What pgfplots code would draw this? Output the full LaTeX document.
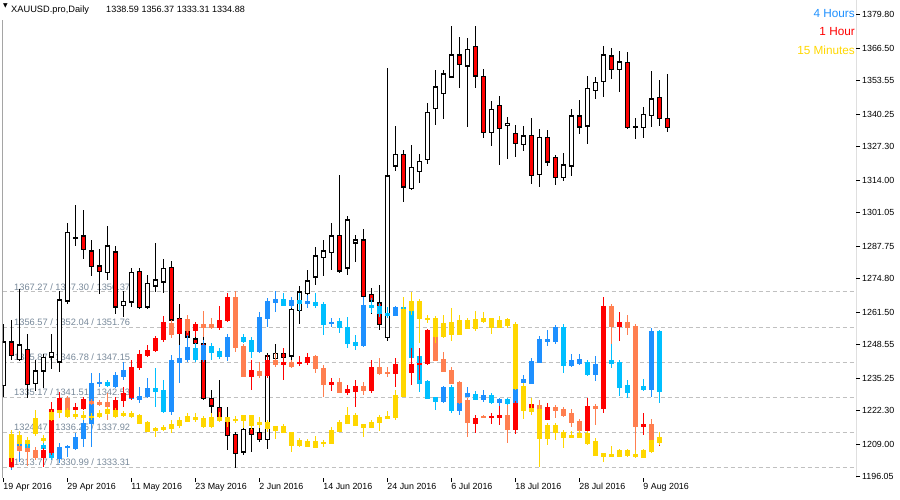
\documentclass[border=0pt]{standalone}
\usepackage{fontspec}
\setmainfont{Liberation Sans}
\newfontfamily\dejavu{DejaVu Sans}
\usepackage{pgfplots}
\usepackage{pgfplotstable}
\pgfplotsset{compat=1.18}
\definecolor{bullB}{HTML}{1E90FF}
\definecolor{bearB}{HTML}{00BFFF}
\definecolor{bullR}{HTML}{FF0000}
\definecolor{bearR}{HTML}{FF7F50}
\definecolor{goldM}{HTML}{FFD700}
\definecolor{lvl}{HTML}{778899}
\definecolor{gridc}{HTML}{C0C0C0}
\newcommand{\tickfont}{\fontsize{8.9}{10}\selectfont}
\newcommand{\lvlfont}{\fontsize{9.3}{10}\selectfont}

% daily candles: k open high low close
\pgfplotstableread{
k o h l c
0 1232.5 1256.7 1227.8 1249.7
1 1249.7 1258.4 1242.4 1244.4
2 1242.7 1270.9 1242.0 1248.4
3 1246.7 1252.8 1227.6 1232.9
4 1233.2 1242.4 1230.1 1238.1
5 1238.2 1245.1 1231.2 1243.5
6 1243.7 1252.8 1239.1 1245.6
7 1241.8 1269.9 1237.8 1266.3
8 1266.0 1297.1 1264.7 1293.1
9 1291.1 1304.1 1287.8 1291.3
10 1291.8 1302.1 1282.5 1286.5
11 1285.8 1290.2 1275.9 1279.8
12 1279.8 1286.5 1268.9 1277.8
13 1277.3 1295.9 1274.3 1287.8
14 1285.4 1287.8 1261.0 1263.6
15 1264.2 1270.0 1259.7 1265.8
16 1265.6 1279.2 1263.4 1277.3
17 1277.8 1279.2 1263.0 1263.4
18 1263.6 1276.5 1263.0 1272.9
19 1271.9 1289.1 1269.4 1274.3
20 1273.6 1282.5 1269.2 1278.9
21 1279.3 1281.8 1257.0 1258.4
22 1258.8 1264.7 1248.4 1253.2
23 1254.4 1260.3 1248.4 1251.7
24 1250.8 1252.4 1246.4 1249.0
25 1249.0 1252.4 1226.5 1227.2
26 1227.2 1230.5 1219.9 1224.3
27 1223.6 1234.5 1218.6 1219.6
28 1219.6 1223.9 1206.9 1212.6
29 1212.9 1213.7 1199.7 1205.3
30 1206.0 1216.2 1204.9 1214.9
31 1215.3 1215.9 1206.0 1212.9
32 1213.7 1215.9 1209.9 1210.9
33 1210.9 1245.1 1207.3 1244.1
34 1243.1 1248.8 1240.0 1245.1
35 1245.1 1246.7 1234.8 1243.5
36 1244.1 1266.0 1242.0 1262.6
37 1262.3 1271.9 1256.8 1269.6
38 1268.9 1278.5 1265.0 1273.9
39 1275.6 1287.5 1272.3 1283.8
40 1283.3 1290.2 1275.9 1285.8
41 1285.3 1297.1 1278.3 1291.8
42 1292.1 1316.0 1277.2 1277.9
43 1279.2 1299.7 1276.3 1298.1
44 1289.1 1292.4 1281.5 1290.2
45 1290.2 1294.5 1267.2 1267.9
46 1268.6 1271.0 1261.0 1266.0
47 1265.2 1272.3 1254.4 1256.6
48 1251.5 1358.5 1250.1 1315.6
49 1319.7 1335.5 1317.8 1324.3
50 1324.3 1326.2 1305.4 1311.4
51 1310.7 1327.9 1310.1 1319.1
52 1317.4 1324.3 1313.0 1321.3
53 1322.3 1344.6 1320.4 1341.0
54 1342.6 1357.8 1335.9 1351.0
55 1348.5 1357.8 1338.2 1356.2
56 1355.1 1375.3 1354.7 1363.8
57 1363.8 1370.8 1350.8 1360.0
58 1359.5 1370.4 1335.3 1366.0
59 1367.1 1375.3 1350.8 1355.4
60 1355.1 1358.1 1330.6 1333.0
61 1333.0 1345.5 1327.7 1342.2
62 1343.6 1347.5 1320.0 1334.6
63 1335.8 1339.0 1322.4 1336.6
64 1332.6 1335.9 1323.3 1328.6
65 1328.2 1335.5 1325.7 1331.5
66 1331.8 1338.7 1312.4 1315.8
67 1316.3 1334.3 1311.2 1331.0
68 1331.0 1333.9 1319.6 1321.3
69 1323.1 1324.0 1312.0 1315.1
70 1315.1 1324.7 1313.8 1320.0
71 1319.7 1342.3 1315.8 1339.5
72 1339.5 1345.9 1332.3 1335.2
73 1335.6 1355.4 1328.4 1350.5
74 1349.8 1355.1 1346.3 1352.9
75 1353.2 1367.4 1347.2 1363.8
76 1363.4 1366.4 1354.2 1358.1
77 1358.1 1365.3 1349.2 1360.9
78 1360.9 1364.8 1334.3 1334.9
79 1335.2 1338.6 1330.2 1335.0
80 1334.9 1343.0 1330.6 1340.2
81 1339.8 1357.4 1335.0 1346.2
82 1346.9 1353.8 1335.6 1338.6
83 1338.59 1356.37 1333.31 1334.88
}\daily

% 4 hour candles, drawn in the band
\pgfplotstableread{
k o h l c
1 1201.1 1204.3 1198.7 1202.7
2 1208.2 1210.6 1201.9 1209.8
3 1209.4 1210.2 1207.1 1207.8
4 1206.7 1207.5 1204.7 1205.5
5 1208.6 1210.2 1203.5 1207.5
6 1210.6 1211.4 1202.7 1203.9
7 1203.5 1209.4 1201.5 1207.8
8 1207.7 1208.6 1203.9 1208.0
9 1207.5 1213.4 1206.7 1211.8
10 1211.4 1221.4 1207.8 1217.4
11 1217.4 1237.3 1207.8 1233.3
12 1233.3 1237.3 1231.7 1233.7
13 1233.7 1234.5 1231.7 1232.5
14 1232.1 1237.7 1231.3 1236.5
15 1236.1 1241.7 1234.5 1238.5
16 1227.3 1229.7 1226.5 1228.5
17 1226.9 1231.7 1225.3 1228.1
18 1228.1 1235.3 1227.3 1231.3
19 1231.3 1239.3 1223.8 1230.1
20 1230.5 1234.5 1221.4 1222.2
21 1222.2 1244.4 1220.6 1242.4
22 1241.7 1248.4 1233.3 1243.2
23 1242.8 1252.4 1241.7 1247.6
24 1247.2 1249.2 1241.7 1242.8
25 1242.8 1250.4 1241.7 1248.4
26 1248.0 1249.2 1242.4 1245.6
27 1246.0 1247.2 1242.8 1244.0
28 1244.0 1252.8 1242.0 1251.6
29 1251.2 1252.4 1248.4 1249.6
30 1251.6 1252.8 1249.2 1250.0
31 1250.4 1251.6 1243.2 1246.0
32 1246.0 1261.5 1245.2 1259.5
33 1259.2 1267.1 1255.6 1265.9
34 1265.5 1269.9 1261.5 1266.7
35 1266.7 1269.1 1264.0 1264.3
36 1264.3 1267.5 1263.1 1266.3
37 1266.3 1269.1 1261.9 1265.1
38 1265.1 1268.3 1263.1 1265.9
39 1265.5 1269.1 1263.1 1264.3
40 1264.7 1265.5 1252.4 1256.8
41 1257.2 1259.2 1255.6 1257.6
42 1258.0 1259.2 1253.2 1255.6
43 1255.6 1259.6 1247.2 1249.2
44 1249.6 1252.4 1246.4 1248.4
45 1248.4 1267.5 1247.6 1264.3
46 1264.3 1267.1 1261.1 1263.5
47 1263.9 1265.1 1259.6 1261.1
48 1261.1 1263.5 1259.2 1260.3
49 1260.3 1263.9 1259.9 1263.5
50 1263.5 1265.1 1262.3 1263.1
51 1262.3 1263.5 1243.4 1243.6
52 1244.0 1244.4 1229.7 1233.3
53 1234.1 1234.5 1226.9 1227.3
54 1227.7 1227.7 1222.6 1226.1
55 1226.1 1232.1 1225.3 1231.7
56 1231.7 1232.5 1221.4 1222.6
57 1222.6 1227.3 1220.6 1226.5
58 1228.1 1231.7 1227.7 1229.3
59 1228.9 1230.1 1226.5 1226.9
60 1226.9 1230.5 1225.7 1228.5
61 1228.5 1229.3 1225.0 1225.7
62 1225.7 1227.3 1223.8 1226.9
63 1226.9 1227.3 1223.8 1225.3
64 1225.3 1232.5 1224.9 1232.1
65 1233.7 1236.5 1232.5 1234.9
66 1233.3 1243.2 1233.3 1242.0
67 1241.7 1252.0 1241.3 1250.8
68 1250.0 1254.4 1248.0 1250.8
69 1250.0 1256.4 1248.8 1255.6
70 1255.6 1256.8 1237.3 1240.5
71 1240.5 1244.8 1239.7 1242.4
72 1241.3 1244.8 1240.5 1242.8
73 1241.7 1242.4 1236.1 1236.9
74 1236.9 1244.0 1234.1 1240.9
75 1240.1 1242.4 1239.3 1241.7
76 1242.4 1249.2 1239.3 1241.3
77 1241.7 1242.4 1228.1 1231.7
78 1232.5 1234.5 1227.3 1229.7
79 1232.1 1232.5 1230.5 1230.9
80 1232.1 1234.9 1230.1 1230.9
81 1230.9 1255.2 1227.7 1254.0
82 1254.0 1254.4 1225.3 1230.1
}\hfour

% 1 hour candles
\pgfplotstableread{
k o h l c
1 1200.3 1208.2 1199.5 1207.1
2 1208.2 1209.0 1205.9 1206.7
3 1207.5 1208.2 1200.3 1206.3
4 1206.7 1207.8 1202.7 1203.9
5 1203.9 1207.5 1199.9 1206.7
6 1205.9 1225.7 1204.7 1223.0
7 1222.6 1229.7 1221.4 1227.3
8 1227.3 1228.1 1221.4 1222.6
9 1223.0 1225.3 1221.4 1223.8
10 1223.4 1227.7 1222.6 1226.9
11 1226.1 1226.9 1224.6 1225.3
12 1225.7 1226.5 1224.2 1225.0
13 1225.7 1229.3 1218.6 1224.2
14 1222.6 1227.7 1221.4 1226.5
15 1226.5 1231.7 1223.8 1229.3
16 1227.7 1242.4 1226.5 1239.7
17 1239.7 1246.4 1238.5 1244.8
18 1244.4 1248.4 1243.6 1246.4
19 1246.4 1252.0 1245.6 1251.2
20 1250.8 1260.0 1249.6 1257.6
21 1257.2 1258.4 1251.2 1252.8
22 1253.2 1259.2 1252.8 1258.8
23 1258.8 1260.3 1253.2 1254.4
24 1254.4 1257.6 1251.6 1256.8
25 1256.8 1261.9 1251.6 1255.6
26 1256.8 1259.2 1254.8 1255.6
27 1255.6 1263.9 1254.4 1258.4
28 1258.4 1269.1 1257.6 1267.5
29 1267.5 1269.9 1245.6 1247.6
30 1248.0 1248.8 1235.7 1236.1
31 1236.1 1242.4 1230.5 1238.5
32 1238.1 1241.7 1235.3 1236.5
33 1236.5 1244.4 1235.3 1242.4
34 1242.4 1245.2 1239.7 1240.9
35 1240.9 1247.2 1234.5 1241.7
36 1241.7 1242.4 1239.3 1240.1
37 1241.3 1244.0 1240.1 1241.7
38 1241.7 1245.2 1240.5 1243.6
39 1244.0 1244.4 1237.3 1239.3
40 1239.3 1240.5 1227.7 1232.9
41 1232.9 1235.3 1230.1 1233.7
42 1233.7 1235.3 1229.3 1229.7
43 1229.7 1232.5 1228.5 1230.9
44 1230.1 1234.5 1223.8 1232.1
45 1232.1 1233.7 1228.5 1230.5
46 1230.5 1242.4 1229.3 1239.7
47 1239.7 1243.2 1236.5 1237.3
48 1237.7 1239.7 1235.7 1237.3
49 1237.3 1243.2 1231.7 1240.9
50 1240.5 1241.3 1238.1 1238.9
51 1237.7 1247.2 1232.5 1240.9
52 1240.9 1247.2 1234.5 1241.3
53 1241.3 1254.8 1240.5 1254.4
54 1252.0 1252.4 1242.0 1242.4
55 1242.8 1245.6 1237.7 1238.1
56 1238.5 1239.7 1232.9 1233.3
57 1233.7 1234.1 1224.9 1225.7
58 1226.5 1227.3 1211.8 1217.8
59 1217.4 1220.6 1213.4 1219.4
60 1220.2 1220.6 1219.4 1219.8
61 1219.8 1221.4 1217.0 1220.2
62 1219.8 1224.2 1216.6 1220.6
63 1220.6 1224.6 1209.4 1215.0
64 1215.0 1226.1 1213.0 1225.3
65 1225.0 1226.5 1224.2 1225.7
66 1223.4 1226.5 1222.6 1225.0
67 1224.6 1226.5 1222.2 1223.0
68 1219.0 1225.3 1218.6 1223.8
69 1223.8 1224.6 1219.4 1222.6
70 1223.0 1223.8 1219.8 1220.6
71 1221.4 1223.0 1215.8 1217.8
72 1218.2 1219.0 1211.4 1214.6
73 1214.6 1227.3 1214.2 1224.2
74 1224.2 1225.0 1216.6 1223.4
75 1223.4 1267.5 1221.4 1263.9
76 1263.9 1264.7 1248.8 1256.0
77 1256.0 1261.5 1250.0 1257.6
78 1257.6 1260.3 1252.4 1255.6
79 1256.0 1256.8 1203.5 1216.2
80 1216.2 1221.4 1212.6 1217.0
81 1217.0 1219.0 1205.5 1206.7
82 1209.8 1213.0 1208.2 1210.6
}\hone

% 15 minute candles
\pgfplotstableread{
k o h l c
1 1203.9 1214.6 1201.9 1213.0
2 1209.4 1214.2 1208.2 1212.6
3 1209.4 1211.8 1208.2 1210.6
4 1213.4 1222.6 1212.2 1219.4
5 1210.6 1212.6 1209.4 1211.4
6 1219.0 1222.6 1218.2 1221.8
7 1221.8 1222.6 1219.4 1222.6
8 1220.2 1223.4 1219.4 1222.6
9 1220.2 1222.6 1219.0 1221.0
10 1219.8 1222.2 1218.6 1220.6
11 1219.8 1221.4 1218.6 1220.2
12 1220.2 1222.6 1219.4 1221.4
13 1221.4 1223.8 1220.6 1223.0
14 1220.2 1223.4 1219.4 1222.6
15 1220.6 1222.2 1219.8 1221.4
16 1220.2 1222.2 1219.4 1221.4
17 1217.4 1221.0 1217.0 1220.6
18 1214.2 1218.2 1213.8 1217.8
19 1214.6 1215.8 1211.8 1215.4
20 1215.0 1216.6 1214.2 1215.8
21 1215.4 1218.6 1213.4 1217.0
22 1216.6 1219.8 1215.4 1218.6
23 1218.2 1221.4 1217.8 1220.2
24 1219.0 1221.4 1217.8 1219.8
25 1216.2 1220.2 1215.4 1219.4
26 1216.2 1221.4 1215.4 1219.8
27 1218.6 1221.8 1217.8 1219.8
28 1218.2 1219.8 1215.8 1219.8
29 1218.6 1220.2 1217.4 1219.0
30 1218.6 1220.6 1215.4 1220.6
31 1216.6 1220.6 1214.6 1220.6
32 1217.0 1219.8 1215.4 1217.8
33 1215.4 1218.6 1213.8 1217.8
34 1214.6 1216.2 1211.0 1216.2
35 1213.8 1217.0 1213.4 1216.2
36 1208.6 1213.8 1205.9 1213.8
37 1208.6 1211.4 1207.8 1210.6
38 1208.2 1211.0 1207.8 1210.2
39 1207.8 1212.2 1207.5 1210.2
40 1209.4 1210.6 1207.8 1209.8
41 1209.4 1215.8 1209.0 1214.6
42 1214.2 1218.6 1213.8 1217.8
43 1217.4 1223.8 1217.4 1220.6
44 1216.6 1221.4 1216.2 1220.6
45 1215.8 1217.0 1211.8 1217.0
46 1215.8 1218.6 1215.4 1217.8
47 1217.8 1220.6 1214.2 1219.8
48 1219.4 1222.2 1219.4 1220.2
49 1219.8 1230.5 1218.6 1228.5
50 1228.1 1267.5 1228.1 1262.7
51 1262.3 1269.5 1260.3 1265.9
52 1259.2 1266.7 1249.2 1265.9
53 1258.8 1260.3 1257.2 1259.2
54 1252.0 1260.0 1249.2 1259.2
55 1252.0 1260.3 1251.2 1257.2
56 1252.8 1263.1 1250.0 1257.6
57 1252.8 1260.3 1252.4 1258.4
58 1255.2 1259.2 1254.8 1258.4
59 1255.2 1261.9 1254.0 1258.8
60 1257.9 1261.5 1257.2 1259.2
61 1255.6 1259.2 1252.8 1259.2
62 1255.6 1260.0 1255.2 1258.4
63 1256.4 1259.2 1255.2 1258.8
64 1231.3 1257.6 1230.5 1256.8
65 1222.6 1233.3 1219.0 1232.1
66 1222.2 1227.3 1220.6 1223.4
67 1211.4 1224.6 1199.9 1223.0
68 1211.4 1217.4 1208.6 1216.6
69 1213.8 1217.4 1210.6 1216.6
70 1211.8 1214.6 1207.5 1213.8
71 1211.8 1214.2 1211.8 1212.6
72 1211.8 1214.6 1211.4 1213.4
73 1209.4 1214.2 1208.6 1213.4
74 1204.7 1211.4 1204.7 1210.2
75 1204.3 1205.5 1201.9 1205.5
76 1204.3 1208.2 1204.3 1205.1
77 1204.3 1207.1 1204.3 1206.7
78 1204.7 1207.1 1203.9 1206.7
79 1204.3 1206.7 1203.5 1205.1
80 1203.9 1207.1 1203.5 1206.7
81 1206.3 1210.6 1205.5 1210.6
82 1209.8 1213.8 1208.6 1211.8
}\hqtr

% wicks: table, colour, condition
\newcommand{\wicks}[3]{%
\addplot[draw=none, mark=none, forget plot,
  error bars/.cd, y dir=both, y explicit, error mark=none,
  error bar style={draw=#2, line width=1bp, solid, line cap=butt}]
  table[x=k, y expr={(\thisrow{h}+\thisrow{l})/2},
        y error expr={#3*(\thisrow{h}-\thisrow{l})/2}] {#1};}
% bodies: table, colour, condition, width, extra half height
\newcommand{\bodies}[5]{%
\addplot[draw=none, mark=none, forget plot,
  error bars/.cd, y dir=both, y explicit, error mark=none,
  error bar style={draw=#2, line width=#4, solid, line cap=butt}]
  table[x=k, y expr={(\thisrow{o}+\thisrow{c})/2},
        y error expr={#3*max(abs(\thisrow{o}-\thisrow{c})/2+#5,0)}] {#1};}

\begin{document}
\begin{tikzpicture}
\useasboundingbox (-2.5bp,-22bp) rectangle (897.5bp,478bp);
\begin{axis}[
  at={(0,0)}, anchor=south west,
  width=853.5bp, height=478bp, scale only axis,
  xmin=-0.1, xmax=106.59, ymin=1195.6, ymax=1385.65,
  axis line style={draw=none},
  xtick pos=left, ytick pos=right,
  tick align=outside, major tick length=4bp,
  tick style={black, line width=0.8bp},
  scaled y ticks=false,
  xtick={0,8,16,24,32,40,48,56,64,72,80},
  xticklabels={19 Apr 2016,29 Apr 2016,11 May 2016,23 May 2016,2 Jun 2016,14 Jun 2016,24 Jun 2016,6 Jul 2016,18 Jul 2016,28 Jul 2016,9 Aug 2016},
  ytick={1196.05,1209.00,1222.30,1235.25,1248.55,1261.50,1274.80,1287.75,1301.05,1314.00,1327.30,1340.25,1353.55,1366.50,1379.80},
  yticklabels={1196.05,1209.00,1222.30,1235.25,1248.55,1261.50,1274.80,1287.75,1301.05,1314.00,1327.30,1340.25,1353.55,1366.50,1379.80},
  xticklabel style={anchor=north west, inner sep=0pt, font=\tickfont, yshift=-1bp},
  yticklabel style={anchor=west, inner sep=0pt, font=\tickfont, xshift=2bp},
]
% level lines
\addplot[gridc, line width=1bp, dash pattern=on 4bp off 3bp, forget plot] coordinates {(-0.1,1269.6) (106.59,1269.6)};
\addplot[gridc, line width=1bp, dash pattern=on 4bp off 3bp, forget plot] coordinates {(-0.1,1255.6) (106.59,1255.6)};
\addplot[gridc, line width=1bp, dash pattern=on 4bp off 3bp, forget plot] coordinates {(-0.1,1241.7) (106.59,1241.7)};
\addplot[gridc, line width=1bp, dash pattern=on 4bp off 3bp, forget plot] coordinates {(-0.1,1227.7) (106.59,1227.7)};
\addplot[gridc, line width=1bp, dash pattern=on 4bp off 3bp, forget plot] coordinates {(-0.1,1213.7) (106.59,1213.7)};
\addplot[gridc, line width=1bp, dash pattern=on 4bp off 3bp, forget plot] coordinates {(-0.1,1199.7) (106.59,1199.7)};
\node[anchor=base west, text=lvl, font=\lvlfont, inner sep=0pt, yshift=1.8bp] at (axis cs:1.34,1269.6) {1367.27 / 1357.30 / 1356.37};
\node[anchor=base west, text=lvl, font=\lvlfont, inner sep=0pt, yshift=1.8bp] at (axis cs:1.34,1255.6) {1356.57 / 1352.04 / 1351.76};
\node[anchor=base west, text=lvl, font=\lvlfont, inner sep=0pt, yshift=1.8bp] at (axis cs:1.34,1241.7) {1345.87 / 1346.78 / 1347.15};
\node[anchor=base west, text=lvl, font=\lvlfont, inner sep=0pt, yshift=1.8bp] at (axis cs:1.34,1227.7) {1335.17 / 1341.51 / 1342.53};
\node[anchor=base west, text=lvl, font=\lvlfont, inner sep=0pt, yshift=1.8bp] at (axis cs:1.34,1213.7) {1324.47 / 1336.25 / 1337.92};
\node[anchor=base west, text=lvl, font=\lvlfont, inner sep=0pt, yshift=1.8bp] at (axis cs:1.34,1199.7) {1313.77 / 1330.99 / 1333.31};
% daily candles
\wicks{\daily}{black}{1}
\bodies{\daily}{black}{1}{5bp}{0.3}
\bodies{\daily}{white}{1}{3bp}{-0.25}
\bodies{\daily}{red}{(\thisrow{c}<\thisrow{o})}{3bp}{-0.25}
% 4 hours
\wicks{\hfour}{bearB}{1}
\wicks{\hfour}{bullB}{(\thisrow{c}>\thisrow{o})}
\bodies{\hfour}{bearB}{1}{5bp}{0.2}
\bodies{\hfour}{bullB}{(\thisrow{c}>\thisrow{o})}{5bp}{0.2}
% 1 hour
\wicks{\hone}{bearR}{1}
\wicks{\hone}{bullR}{(\thisrow{c}>\thisrow{o})}
\bodies{\hone}{bearR}{1}{5bp}{0.2}
\bodies{\hone}{bullR}{(\thisrow{c}>\thisrow{o})}{5bp}{0.2}
% 15 minutes
\wicks{\hqtr}{goldM}{1}
\bodies{\hqtr}{goldM}{1}{5bp}{0.2}
% frame
\draw[black, line width=1bp] (rel axis cs:0,0.958) -- (rel axis cs:0,0) -- (rel axis cs:1,0) -- (rel axis cs:1,1);
% header and legend
\node[anchor=center, font=\dejavu\fontsize{6}{7}\selectfont, inner sep=0pt] at (axis description cs:0.0035,0.988) {▼};
\node[anchor=base west, font=\fontsize{9.3}{10}\selectfont, inner sep=0pt] at (axis description cs:0.0100,0.9738) {XAUUSD.pro,Daily};
\node[anchor=base west, font=\fontsize{9.1}{10}\selectfont, inner sep=0pt] at (axis description cs:0.1213,0.9738) {1338.59 1356.37 1333.31 1334.88};
\node[anchor=base east, font=\fontsize{11.8}{13}\selectfont, text=bullB, inner sep=0pt] at (axis description cs:0.9988,0.9634) {4 Hours};
\node[anchor=base east, font=\fontsize{11.8}{13}\selectfont, text=red, inner sep=0pt] at (axis description cs:0.9988,0.9247) {1 Hour};
\node[anchor=base east, font=\fontsize{11.8}{13}\selectfont, text=goldM, inner sep=0pt] at (axis description cs:0.9988,0.8850) {15 Minutes};
% current price box
\node[anchor=west, fill=black, text=white, font=\tickfont, inner xsep=2bp, inner ysep=1.5bp, xshift=3bp] at (axis cs:106.59,1334.88) {1334.88};
\end{axis}
\end{tikzpicture}
\end{document}
